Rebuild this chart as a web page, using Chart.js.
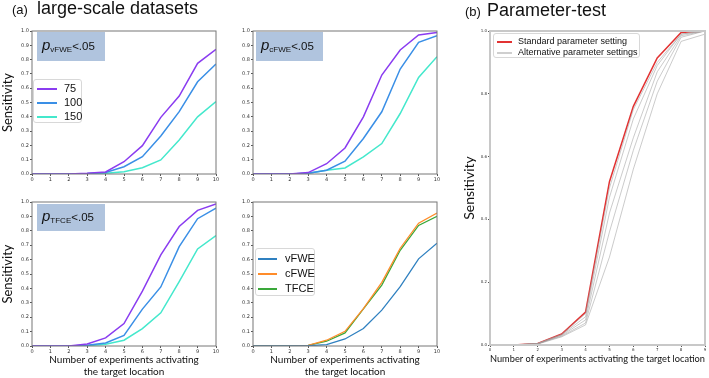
<!DOCTYPE html>
<html>
<head>
<meta charset="utf-8">
<script src="https://cdn.jsdelivr.net/npm/chart.js@4.4.1/dist/chart.umd.min.js"></script>
<style>
  body { margin: 0; background: #fff; width: 709px; height: 378px; position: relative; overflow: hidden; font-family: 'Liberation Sans', Arial, sans-serif; }
  canvas { position: absolute; left: 0; top: 0; }
  .t { position: absolute; white-space: nowrap; color: #111; line-height: 1; }
  .box { position: absolute; background: #b0c4de; }
  .box span { position: absolute; left: 5px; white-space: nowrap; color: #111; font-size: 11.5px; }
  .box i { font-size: 15px; }
  .box sub { font-size: 8px; vertical-align: -2px; }
  .leg { position: absolute; background: rgba(255,255,255,0.85); border: 1px solid #d8d8d8; border-radius: 3px; box-sizing: border-box; }
  .leg div { white-space: nowrap; color: #111; }
  .leg b { display: inline-block; vertical-align: middle; font-weight: normal; }
</style>
</head>
<body>
<canvas id="c1" width="709" height="378"></canvas>
<canvas id="c2" width="709" height="378"></canvas>
<canvas id="c3" width="709" height="378"></canvas>
<canvas id="c4" width="709" height="378"></canvas>
<canvas id="c5" width="709" height="378"></canvas>

<div class="t" style="left:12px;top:3px;font-size:13px">(a)</div>
<div class="t" style="left:37px;top:-1px;font-size:18px">large-scale datasets</div>
<div class="t" style="left:465px;top:5px;font-size:13px">(b)</div>
<div class="t" style="left:487px;top:1px;font-size:18px">Parameter-test</div>

<div class="box" style="left:37px;top:32px;width:68px;height:29px">
  <span style="top:4px"><i>p</i><sub>vFWE</sub>&lt;.05</span>
</div>
<div class="box" style="left:256px;top:32px;width:67px;height:29px">
  <span style="top:4px"><i>p</i><sub>cFWE</sub>&lt;.05</span>
</div>
<div class="box" style="left:37px;top:204px;width:68px;height:27px">
  <span style="top:3px"><i>p</i><sub>TFCE</sub>&lt;.05</span>
</div>

<div class="leg" id="leg1" style="left:33px;top:79px;width:49px;height:44px;padding-top:1px"></div>
<div class="leg" id="leg4" style="left:255px;top:248px;width:60px;height:48px;padding-top:2px"></div>
<div class="leg" id="leg5" style="left:493px;top:33px;width:147px;height:25px;padding-top:2px"></div>

<script>
// x values
const xs10 = [0, 1, 2, 3, 4, 5, 6, 7, 8, 9, 10];
const xs9 = [0, 1, 2, 3, 4, 5, 6, 7, 8, 9];

// dataset sizes (panels a1-a3)
const sizeLabels = ['75', '100', '150'];
const sizeColors = ['#8a3cf0', '#3a8fe6', '#44e8cc'];

// p vFWE < .05
const vfwe75  = [0, 0, 0, 0.005, 0.014, 0.086, 0.198, 0.396, 0.545, 0.774, 0.872];
const vfwe100 = [0, 0, 0, 0.003, 0.010, 0.051, 0.121, 0.266, 0.436, 0.645, 0.769];
const vfwe150 = [0, 0, 0, 0.001, 0.005, 0.016, 0.044, 0.098, 0.238, 0.400, 0.506];

// p cFWE < .05
const cfwe75  = [0, 0, 0, 0.010, 0.072, 0.182, 0.400, 0.692, 0.867, 0.972, 0.990];
const cfwe100 = [0, 0, 0, 0.005, 0.026, 0.089, 0.248, 0.435, 0.734, 0.921, 0.967];
const cfwe150 = [0, 0, 0, 0.005, 0.026, 0.042, 0.120, 0.213, 0.423, 0.675, 0.820];

// p TFCE < .05
const tfce75  = [0, 0, 0, 0.014, 0.056, 0.156, 0.381, 0.633, 0.830, 0.942, 0.986];
const tfce100 = [0, 0, 0, 0.005, 0.021, 0.074, 0.256, 0.410, 0.690, 0.884, 0.958];
const tfce150 = [0, 0, 0, 0.002, 0.012, 0.040, 0.121, 0.230, 0.447, 0.674, 0.767];

// comparison of corrections
const methodLabels = ['vFWE', 'cFWE', 'TFCE'];
const methodColors = ['#2f80c0', '#ff8c2a', '#3aa83a'];
const cmpVfwe = [0, 0, 0, 0.002, 0.009, 0.049, 0.121, 0.249, 0.412, 0.605, 0.714];
const cmpCfwe = [0, 0, 0, 0.005, 0.040, 0.102, 0.260, 0.442, 0.679, 0.853, 0.923];
const cmpTfce = [0, 0, 0, 0.005, 0.033, 0.091, 0.258, 0.423, 0.665, 0.837, 0.900];

// parameter test
const paramLabels = ['Standard parameter setting', 'Alternative parameter settings'];
const standard = [0, 0, 0.005, 0.035, 0.105, 0.52, 0.76, 0.914, 0.995, 1.0];
const alt1 = [0, 0, 0.005, 0.034, 0.100, 0.50, 0.75, 0.90, 0.99, 1.0];
const alt2 = [0, 0, 0.005, 0.032, 0.090, 0.47, 0.72, 0.89, 0.99, 1.0];
const alt3 = [0, 0, 0.004, 0.030, 0.080, 0.42, 0.66, 0.87, 0.985, 1.0];
const alt4 = [0, 0, 0.004, 0.028, 0.070, 0.36, 0.62, 0.84, 0.98, 1.0];
const alt5 = [0, 0, 0.003, 0.026, 0.064, 0.28, 0.56, 0.80, 0.967, 0.99];

const xTitle2 = ['Number of experiments activating', 'the target location'];
const xTitle1 = 'Number of experiments activating the target location';

function pts(xs, ys) {
  return xs.map((x, i) => ({ x: x, y: ys[i] }));
}

function line(label, xs, ys, color, width) {
  return { label: label, data: pts(xs, ys), borderColor: color, backgroundColor: color,
           borderWidth: width, pointRadius: 0, tension: 0, fill: false };
}

const framePlugin = {
  id: 'frame',
  afterDatasetsDraw(chart, args, opts) {
    const a = chart.chartArea;
    const c = chart.ctx;
    c.save();
    c.strokeStyle = opts.color;
    c.lineWidth = opts.width;
    c.strokeRect(a.left, a.top, a.right - a.left, a.bottom - a.top);
    c.restore();
  }
};

// p: plot rect {l,t,r,b}
function panel(id, p, datasets, o) {
  const ctx = document.getElementById(id).getContext('2d');
  return new Chart(ctx, {
    type: 'line',
    data: { datasets: datasets },
    options: {
      responsive: false,
      animation: false,
      events: [],
      layout: { padding: { left: p.l - o.wy, top: p.t, right: 709 - p.r, bottom: 378 - p.b - o.hx } },
      plugins: {
        legend: { display: false },
        tooltip: { enabled: false },
        frame: { color: o.frame, width: o.frameW }
      },
      scales: {
        x: {
          type: 'linear', min: 0, max: o.xMax,
          ticks: { stepSize: 1, autoSkip: false, maxRotation: 0, padding: 1, color: '#333',
                   font: { family: 'DejaVu Sans', size: o.tick } },
          grid: { drawOnChartArea: false, tickLength: 2, color: '#555' },
          border: { display: false },
          title: o.xTitle ? { display: true, text: o.xTitle, color: '#111', padding: 0,
                              font: { family: 'Lato', size: 10, lineHeight: '12px' } } : { display: false },
          afterFit: s => { s.height = o.hx; }
        },
        y: {
          min: 0, max: 1,
          ticks: { stepSize: o.yStep, padding: 1, color: '#333',
                   font: { family: 'DejaVu Sans', size: o.tick },
                   callback: v => v.toFixed(1) },
          grid: { drawOnChartArea: false, tickLength: 2, color: '#555' },
          border: { display: false },
          title: o.yTitle ? { display: true, text: 'Sensitivity', color: '#111', padding: o.yPad,
                              font: { family: 'Lato', size: o.ySize } } : { display: false },
          afterFit: s => { s.width = o.wy; }
        }
      }
    },
    plugins: [framePlugin]
  });
}

function sizeSets(a, b, c) {
  return [line(sizeLabels[0], xs10, a, sizeColors[0], 1.5),
          line(sizeLabels[1], xs10, b, sizeColors[1], 1.5),
          line(sizeLabels[2], xs10, c, sizeColors[2], 1.5)];
}

const base = { xMax: 10, yStep: 0.1, tick: 5, frame: '#777', frameW: 1 };

panel('c1', { l: 32, t: 31, r: 216, b: 174 }, sizeSets(vfwe75, vfwe100, vfwe150),
      Object.assign({}, base, { wy: 32, hx: 12, yTitle: true, ySize: 13, yPad: 0 }));
panel('c2', { l: 253, t: 31, r: 437, b: 174 }, sizeSets(cfwe75, cfwe100, cfwe150),
      Object.assign({}, base, { wy: 20, hx: 12 }));
panel('c3', { l: 32, t: 202, r: 216, b: 346 }, sizeSets(tfce75, tfce100, tfce150),
      Object.assign({}, base, { wy: 32, hx: 32, xTitle: xTitle2, yTitle: true, ySize: 13, yPad: 0 }));
panel('c4', { l: 253, t: 202, r: 437, b: 346 },
      [line(methodLabels[0], xs10, cmpVfwe, methodColors[0], 1.3),
       line(methodLabels[1], xs10, cmpCfwe, methodColors[1], 1.3),
       line(methodLabels[2], xs10, cmpTfce, methodColors[2], 1.3)],
      Object.assign({}, base, { wy: 20, hx: 32, xTitle: xTitle2 }));

const altColor = 'rgba(160,160,160,0.55)';
panel('c5', { l: 490, t: 31, r: 705, b: 345 },
      [line(paramLabels[1], xs9, alt5, altColor, 1),
       line(paramLabels[1], xs9, alt4, altColor, 1),
       line(paramLabels[1], xs9, alt3, altColor, 1),
       line(paramLabels[1], xs9, alt2, altColor, 1),
       line(paramLabels[1], xs9, alt1, altColor, 1),
       line(paramLabels[0], xs9, standard, '#e23232', 1.5)],
      { xMax: 9, yStep: 0.2, tick: 4, frame: '#c8c8c8', frameW: 2,
        wy: 29, hx: 20, xTitle: xTitle1, yTitle: true, ySize: 14, yPad: 0 });

function htmlLegend(id, labels, colors, o) {
  const el = document.getElementById(id);
  labels.forEach((lab, i) => {
    const row = document.createElement('div');
    row.style.height = o.row + 'px';
    row.style.lineHeight = o.row + 'px';
    row.style.fontSize = o.font + 'px';
    const sw = document.createElement('b');
    sw.style.width = o.w + 'px';
    sw.style.height = o.h + 'px';
    sw.style.background = colors[i];
    sw.style.marginLeft = o.ml + 'px';
    sw.style.marginRight = o.mr + 'px';
    row.appendChild(sw);
    row.appendChild(document.createTextNode(lab));
    el.appendChild(row);
  });
}

htmlLegend('leg1', sizeLabels, sizeColors, { row: 14, font: 11, w: 20, h: 2, ml: 3, mr: 7 });
htmlLegend('leg4', methodLabels, methodColors, { row: 15, font: 11, w: 19, h: 2, ml: 2, mr: 8 });
htmlLegend('leg5', paramLabels, ['#e23232', '#cfcfcf'], { row: 11, font: 9, w: 15, h: 2, ml: 3, mr: 6 });
</script>
</body>
</html>
